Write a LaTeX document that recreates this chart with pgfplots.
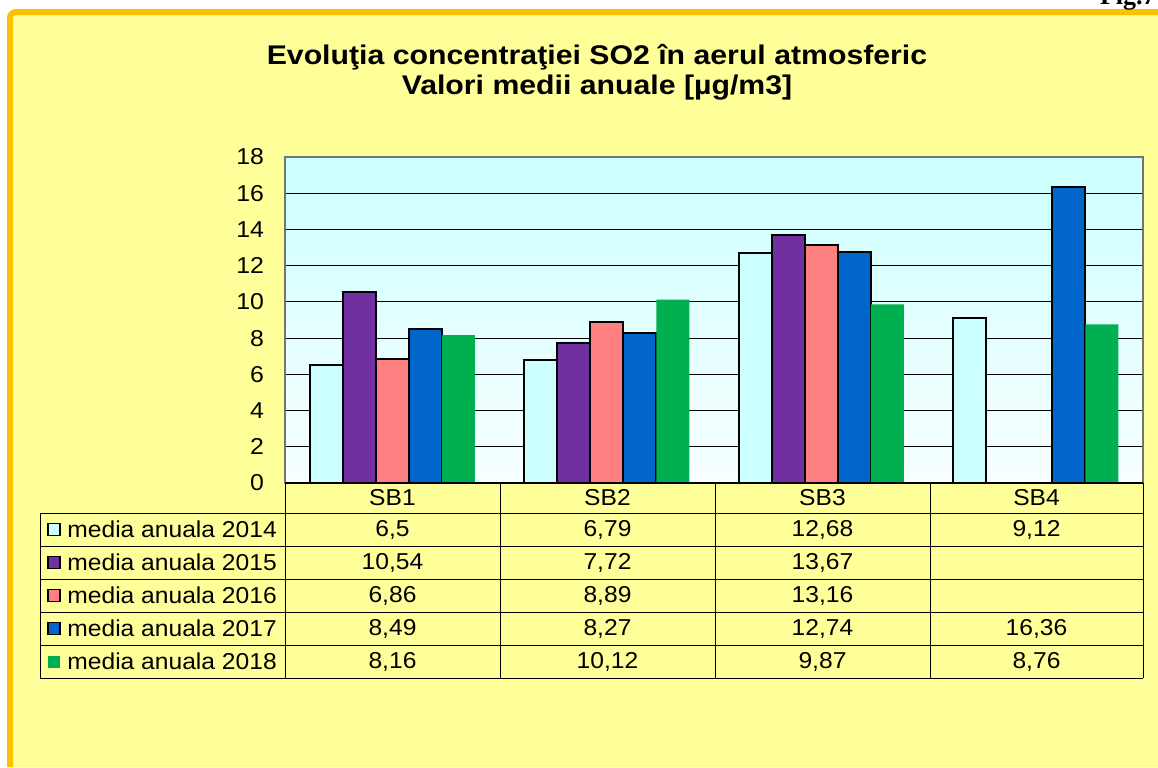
\documentclass[border=0pt]{standalone}
\usepackage{fontspec}
\setmainfont{Liberation Sans}
\newfontfamily\serifb{Liberation Serif}
\usepackage{pgfplots}
\pgfplotsset{compat=1.18}
\definecolor{bgyellow}{HTML}{FFFF99}
\definecolor{borderorange}{HTML}{FFC000}
\definecolor{cA}{HTML}{CCFFFF}
\definecolor{cB}{HTML}{7030A0}
\definecolor{cC}{HTML}{FF8080}
\definecolor{cD}{HTML}{0066CC}
\definecolor{cE}{HTML}{00B050}
\definecolor{plottop}{HTML}{CCFFFF}
\definecolor{plotbot}{HTML}{F8FFFF}
\newcommand{\sx}[1]{\scalebox{1.07}[1]{#1}}
\newcommand{\st}[1]{\scalebox{1.12}[1]{#1}}
\begin{document}
\begin{tikzpicture}[x=0.5pt,y=-0.5pt]
\useasboundingbox (0,0) rectangle (1158,767);
\fill[bgyellow] (10,12) rectangle (1158,767);
\draw[borderorange, line width=3pt, rounded corners=3pt] (10,767) -- (10,12) -- (1158,12);
\node[anchor=base east, inner sep=0pt, font=\serifb\bfseries\fontsize{13}{15}\selectfont] at (1156,4) {Fig.7};
\node[font=\bfseries\fontsize{13.5}{15}\selectfont] at (597,57) {\st{Evoluţia concentraţiei SO2 în aerul atmosferic}};
\node[font=\bfseries\fontsize{13.5}{15}\selectfont] at (597,88) {\st{Valori medii anuale [µg/m3]}};
\coordinate (A) at (285,483);
\begin{axis}[
  at={(A)}, anchor=south west,
  width=429pt, height=163pt, scale only axis,
  xmin=-0.5, xmax=3.5, ymin=0, ymax=18,
  ytick={0,2,...,18}, xtick=\empty,
  major tick length=0pt,
  ymajorgrids, major grid style={black, line width=0.5pt},
  axis line style={draw=gray!90!black, line width=1pt},
  axis background/.style={top color=plottop, bottom color=plotbot},
  /pgf/number format/assume math mode=true,
  yticklabel={\scalebox{1.08}[1]{\pgfmathprintnumber{\tick}}},
  yticklabel style={font=\fontsize{11.5}{13}\selectfont, xshift=-7pt},
  ybar, bar width=0.154,
  clip=false,
]
\addplot[fill=cA, draw=black, line width=1pt, bar shift=-0.308] coordinates {(0,6.5) (1,6.79) (2,12.68) (3,9.12)};
\addplot[fill=cB, draw=black, line width=1pt, bar shift=-0.154] coordinates {(0,10.54) (1,7.72) (2,13.67)};
\addplot[fill=cC, draw=black, line width=1pt, bar shift=0] coordinates {(0,6.86) (1,8.89) (2,13.16)};
\addplot[fill=cD, draw=black, line width=1pt, bar shift=0.154] coordinates {(0,8.49) (1,8.27) (2,12.74) (3,16.36)};
\addplot[fill=cE, draw=none, bar shift=0.308] coordinates {(0,8.16) (1,10.12) (2,9.87) (3,8.76)};
\end{axis}
% data table
\draw[black, line width=1pt] (285,483) -- (1143,483);
\foreach \yy in {513,546,579,612,645,678} \draw[black, line width=0.5pt] (40,\yy) -- (1143,\yy);
\draw[black, line width=0.5pt] (40,513) -- (40,678);
\foreach \xx in {285,500,715,930,1143} \draw[black, line width=0.5pt] (\xx,483) -- (\xx,678);
\begin{scope}[every node/.style={font=\fontsize{11.5}{13}\selectfont, inner sep=0pt}]
\node at (392.5,498) {\sx{SB1}};
\node at (607.5,498) {\sx{SB2}};
\node at (822.5,498) {\sx{SB3}};
\node at (1036.5,498) {\sx{SB4}};
% legend markers
\filldraw[fill=cA, draw=black, line width=0.9pt] (48,523.5) rectangle (60,535.5);
\filldraw[fill=cB, draw=black, line width=0.9pt] (48,556.5) rectangle (60,568.5);
\filldraw[fill=cC, draw=black, line width=0.9pt] (48,589.5) rectangle (60,601.5);
\filldraw[fill=cD, draw=black, line width=0.9pt] (48,622.5) rectangle (60,634.5);
\fill[cE] (48,655.5) rectangle (60,667.5);
\node[anchor=west] at (67,529.5) {\sx{media anuala 2014}};
\node[anchor=west] at (67,562.5) {\sx{media anuala 2015}};
\node[anchor=west] at (67,595.5) {\sx{media anuala 2016}};
\node[anchor=west] at (67,628.5) {\sx{media anuala 2017}};
\node[anchor=west] at (67,661.5) {\sx{media anuala 2018}};
% values
\node at (392.5,529.5) {\sx{6,5}};   \node at (607.5,529.5) {\sx{6,79}};  \node at (822.5,529.5) {\sx{12,68}}; \node at (1036.5,529.5) {\sx{9,12}};
\node at (392.5,562.5) {\sx{10,54}}; \node at (607.5,562.5) {\sx{7,72}};  \node at (822.5,562.5) {\sx{13,67}};
\node at (392.5,595.5) {\sx{6,86}};  \node at (607.5,595.5) {\sx{8,89}};  \node at (822.5,595.5) {\sx{13,16}};
\node at (392.5,628.5) {\sx{8,49}};  \node at (607.5,628.5) {\sx{8,27}};  \node at (822.5,628.5) {\sx{12,74}}; \node at (1036.5,628.5) {\sx{16,36}};
\node at (392.5,661.5) {\sx{8,16}};  \node at (607.5,661.5) {\sx{10,12}}; \node at (822.5,661.5) {\sx{9,87}};  \node at (1036.5,661.5) {\sx{8,76}};
\end{scope}
\end{tikzpicture}
\end{document}
